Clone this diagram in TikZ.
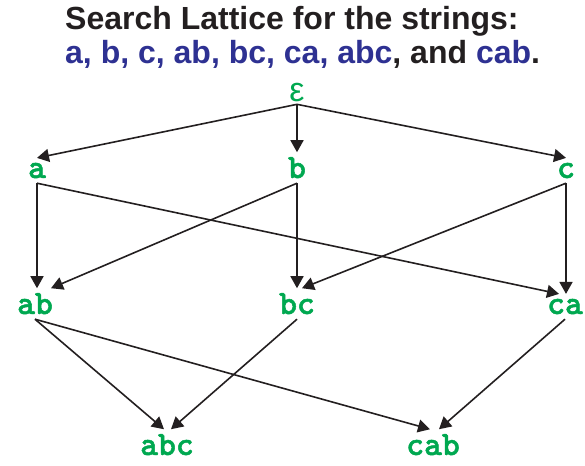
\documentclass[tikz,border=0pt]{standalone}
\usepackage{fontspec}
\setmainfont{Liberation Sans}
\newfontfamily\lblmono[FakeBold=1.5]{lmmonolt10-bold.otf}
\usetikzlibrary{arrows.meta}
\definecolor{lgreen}{RGB}{0,168,80}
\definecolor{tblue}{RGB}{46,49,146}
\definecolor{tblack}{RGB}{35,31,32}
\tikzset{
  lbl/.style={font=\lblmono\fontsize{34}{34}\selectfont, text=lgreen, inner xsep=2pt, inner ysep=5pt, outer sep=0pt, anchor=base},
  epslbl/.style={font=\fontsize{34}{34}\selectfont, text=lgreen, inner xsep=2pt, inner ysep=2pt, outer sep=0pt, anchor=base},
  ttl/.style={font=\bfseries\fontsize{32}{32}\selectfont, text=tblack, inner sep=0pt, anchor=base west},
  edge/.style={draw=tblack, line width=1.6pt, -{Triangle[length=12pt,width=13pt]}}
}
\newcommand{\bl}[1]{\textcolor{tblue}{#1}}
\begin{document}
\begin{tikzpicture}[x=1pt,y=-1pt]
\useasboundingbox (0,0) rectangle (585,465);
\node[ttl] (t1) at (65,30) {Search Lattice for the strings:};
\node[ttl] (t2) at (65,64) {\bl{a,} \bl{b,} \bl{c,} \bl{ab,} \bl{bc,} \bl{ca,} \bl{abc}, and \bl{cab}.};
\node[epslbl] (e) at (297,102) {ε};
\node[lbl] (a) at (37,178) {a};
\node[lbl] (b) at (297,178) {b};
\node[lbl] (c) at (566,178) {c};
\node[lbl] (ab) at (35,314) {ab};
\node[lbl] (bc) at (297,314) {bc};
\node[lbl] (ca) at (565,314) {ca};
\node[lbl] (abc) at (167,455) {abc};
\node[lbl] (cab) at (433,455) {cab};
\draw[edge] (e.south) -- (a.north);
\draw[edge] (e.south) -- (b.north);
\draw[edge] (e.south) -- (c.north);
\draw[edge] (a.south) -- (a.south |- ab.north);
\draw[edge] (a.south) -- ([xshift=-6pt]ca.north);
\draw[edge] (b.south) -- ([xshift=16pt]ab.north);
\draw[edge] (b.south) -- (b.south |- bc.north);
\draw[edge] (c.south) -- ([xshift=5pt]bc.north);
\draw[edge] (c.south) -- (c.south |- ca.north);
\draw[edge] (ab.south) -- ([xshift=-3pt]abc.north);
\draw[edge] (ab.south) -- ([xshift=-3pt]cab.north);
\draw[edge] (bc.south) -- ([xshift=4pt]abc.north);
\draw[edge] (ca.south) -- ([xshift=6pt]cab.north);
\end{tikzpicture}
\end{document}
